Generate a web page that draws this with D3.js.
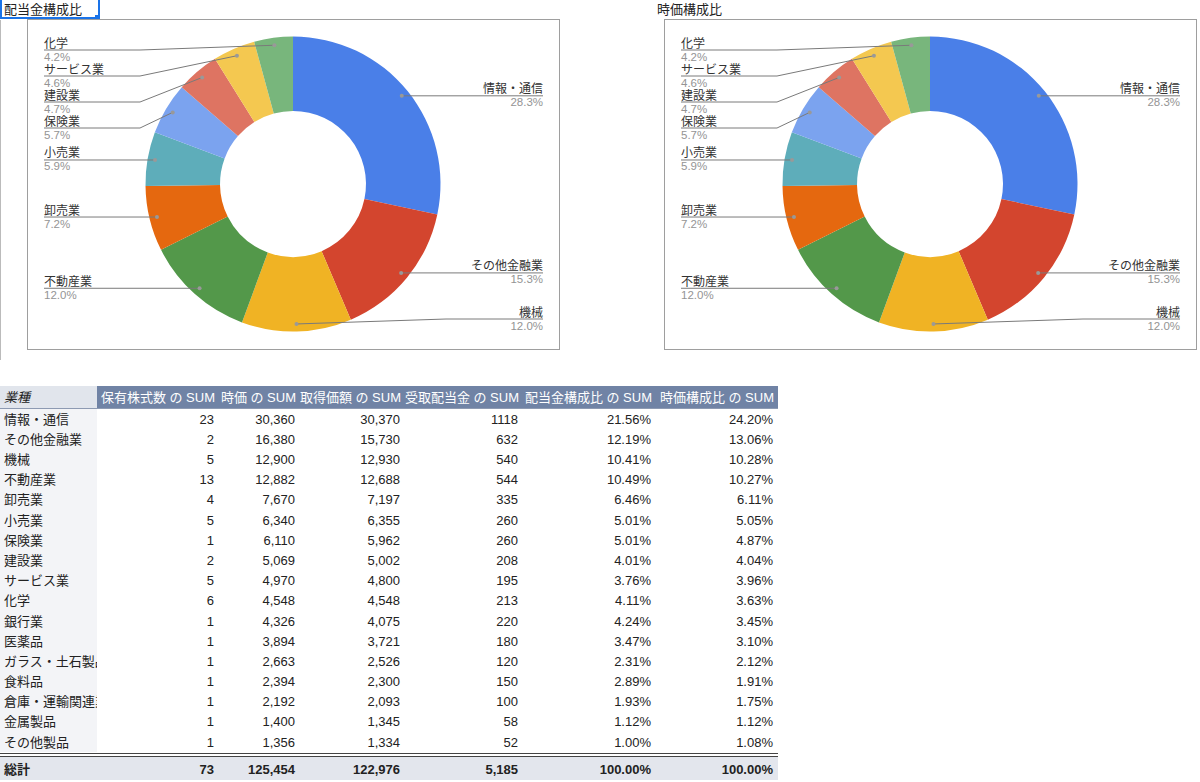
<!DOCTYPE html>
<html><head><meta charset="utf-8">
<script src="https://cdn.jsdelivr.net/npm/d3@7"></script>
<style>
html,body{margin:0;padding:0;background:#fff;}
svg{display:block;font-family:"Liberation Sans",Arial,"Noto Sans CJK JP",sans-serif;}
</style></head>
<body><svg id="c" width="1200" height="782"></svg>
<script>
// ---- data ----
const sectors = ["情報・通信","その他金融業","機械","不動産業","卸売業","小売業","保険業","建設業","サービス業","化学","銀行業","医薬品","ガラス・土石製品","食料品","倉庫・運輸関連業","金属製品","その他製品"];
const shares = [23,2,5,13,4,5,1,2,5,6,1,1,1,1,1,1,1];
const marketValue = [30360,16380,12900,12882,7670,6340,6110,5069,4970,4548,4326,3894,2663,2394,2192,1400,1356];
const acquisitionCost = [30370,15730,12930,12688,7197,6355,5962,5002,4800,4548,4075,3721,2526,2300,2093,1345,1334];
const dividends = [1118,632,540,544,335,260,260,208,195,213,220,180,120,150,100,58,52];
const dividendRatio = [21.56,12.19,10.41,10.49,6.46,5.01,5.01,4.01,3.76,4.11,4.24,3.47,2.31,2.89,1.93,1.12,1.00];
const marketRatio = [24.20,13.06,10.28,10.27,6.11,5.05,4.87,4.04,3.96,3.63,3.45,3.10,2.12,1.91,1.75,1.12,1.08];
const headers = ["業種","保有株式数 の SUM","時価 の SUM","取得価額 の SUM","受取配当金 の SUM","配当金構成比 の SUM","時価構成比 の SUM"];
const totalLabel = "総計";
// donut charts (top 10 sectors)
const chartTitles = ["配当金構成比","時価構成比"];
const pieLabels = sectors.slice(0,10);
const pieValues = marketValue.slice(0,10);
const sliceColors = ["#4a7fe8","#d3452e","#f0b324","#53984a","#e5680f","#5eadba","#7ba3ef","#de7462","#f4c850","#78b67c"];

const svg = d3.select("#c");

// ---- donuts ----
function donut(ox, title, titleX, selected){
  const g = svg.append("g");
  if (selected){
    g.append("rect").attr("x",1).attr("y",-2).attr("width",98).attr("height",20)
      .attr("fill","none").attr("stroke","#1a73e8").attr("stroke-width",2);
    g.append("rect").attr("x",95).attr("y",15).attr("width",5).attr("height",5).attr("fill","#1a73e8");
  }
  g.append("text").attr("x",titleX).attr("y",14).attr("font-size",13).attr("fill","#222").text(title);
  g.append("rect").attr("x",ox+27.5).attr("y",19.5).attr("width",532).attr("height",330)
    .attr("fill","#fff").attr("stroke","#9e9e9e").attr("stroke-width",1);
  const cx = ox+293, cy = 184;
  const pie = d3.pie().sort(null).value(d=>d)(pieValues);
  const arc = d3.arc().innerRadius(73).outerRadius(147.5);
  const dotArc = d3.arc().innerRadius(140).outerRadius(140);
  const total = d3.sum(pieValues);
  const fmt = d3.format(".1%");
  const pg = g.append("g").attr("transform",`translate(${cx},${cy})`);
  pg.selectAll("path").data(pie).join("path").attr("d",arc)
    .attr("fill",(d,i)=>sliceColors[i]);
  const items = pie.map((d,i)=>{
    const c = dotArc.centroid(d);
    return {i, x:cx+c[0], y:cy+c[1], left:c[0]<0};
  });
  const gap = 26, minY = 50, maxY = 319;
  [true,false].forEach(side=>{
    const arr = items.filter(d=>d.left===side).sort((a,b)=>a.y-b.y);
    let prev = -Infinity;
    arr.forEach(d=>{ d.ly = Math.max(d.y, prev+gap, minY); prev = d.ly; });
    let next = Infinity;
    for (let k=arr.length-1;k>=0;k--){ const d=arr[k]; d.ly = Math.min(d.ly, next-gap, maxY); next=d.ly; }
  });
  items.forEach(d=>{
    const lx = d.left ? ox+44 : ox+543;
    const ex = d.left ? ox+140 : ox+446;
    g.append("path").attr("d",`M${lx},${d.ly}L${ex},${d.ly}L${d.x},${d.y}`)
      .attr("fill","none").attr("stroke","#7a7a7a").attr("stroke-width",1);
    g.append("circle").attr("cx",d.x).attr("cy",d.y).attr("r",2).attr("fill","#999");
    const anchor = d.left ? "start" : "end";
    g.append("text").attr("x",lx).attr("y",d.ly-2.5).attr("text-anchor",anchor)
      .attr("font-size",12).attr("fill","#333").text(pieLabels[d.i]);
    g.append("text").attr("x",lx).attr("y",d.ly+10.5).attr("text-anchor",anchor)
      .attr("font-size",11.5).attr("fill","#949494").text(fmt(pieValues[d.i]/total));
  });
}
svg.append("line").attr("x1",0.5).attr("x2",0.5).attr("y1",20).attr("y2",360).attr("stroke","#bbb");
donut(0, chartTitles[0], 4, true);
donut(637, chartTitles[1], 657, false);

// ---- table ----
const t = svg.append("g");
const firstColW = 97, tableRight = 778;
const rightEdges = [214, 295, 400, 518, 651, 773];
const rowY = d3.scaleBand().domain(d3.range(sectors.length)).range([409, 752]);
t.append("rect").attr("x",0).attr("y",386).attr("width",firstColW).attr("height",22).attr("fill","#e1e5ec");
t.append("rect").attr("x",firstColW).attr("y",386).attr("width",tableRight-firstColW).attr("height",22).attr("fill","#7083a5");
t.append("line").attr("x1",0).attr("x2",tableRight).attr("y1",408.5).attr("y2",408.5).attr("stroke","#8d9ab2");
t.append("text").attr("x",4).attr("y",397).attr("dy","0.36em").attr("font-size",13)
  .attr("font-style","italic").attr("fill","#222").text(headers[0]);
headers.slice(1).forEach((h,j)=>{
  t.append("text").attr("x",rightEdges[j]+1).attr("y",397).attr("dy","0.36em").attr("font-size",13)
    .attr("text-anchor","end").attr("fill","#fff").text(h);
});
t.append("rect").attr("x",0).attr("y",409).attr("width",firstColW).attr("height",343).attr("fill","#f3f4f7");
const clip = svg.append("defs").append("clipPath").attr("id","fc");
clip.append("rect").attr("x",0).attr("y",380).attr("width",firstColW).attr("height",400);
const comma = d3.format(","), pct = d => d3.format(".2f")(d)+"%";
const cols = [
  i=>String(shares[i]), i=>comma(marketValue[i]), i=>comma(acquisitionCost[i]),
  i=>String(dividends[i]), i=>pct(dividendRatio[i]), i=>pct(marketRatio[i])
];
sectors.forEach((s,i)=>{
  const y = rowY(i) + rowY.bandwidth()/2;
  t.append("text").attr("clip-path","url(#fc)").attr("x",4).attr("y",y).attr("dy","0.36em")
    .attr("font-size",13).attr("fill","#222").text(s);
  cols.forEach((f,j)=>{
    t.append("text").attr("x",rightEdges[j]).attr("y",y).attr("dy","0.36em").attr("font-size",13)
      .attr("text-anchor","end").attr("fill","#222").text(f(i));
  });
});
t.append("line").attr("x1",0).attr("x2",tableRight).attr("y1",753.5).attr("y2",753.5).attr("stroke","#444");
t.append("line").attr("x1",0).attr("x2",tableRight).attr("y1",756.5).attr("y2",756.5).attr("stroke","#444");
t.append("rect").attr("x",0).attr("y",757).attr("width",tableRight).attr("height",23).attr("fill","#e3e6ed");
const totals = [comma(d3.sum(shares)), comma(d3.sum(marketValue)), comma(d3.sum(acquisitionCost)),
  comma(d3.sum(dividends)), "100.00%", "100.00%"];
t.append("text").attr("x",4).attr("y",769).attr("dy","0.36em").attr("font-size",13)
  .attr("font-weight","bold").attr("fill","#222").text(totalLabel);
totals.forEach((v,j)=>{
  t.append("text").attr("x",rightEdges[j]).attr("y",769).attr("dy","0.36em").attr("font-size",13)
    .attr("font-weight","bold").attr("text-anchor","end").attr("fill","#222").text(v);
});
</script></body></html>
